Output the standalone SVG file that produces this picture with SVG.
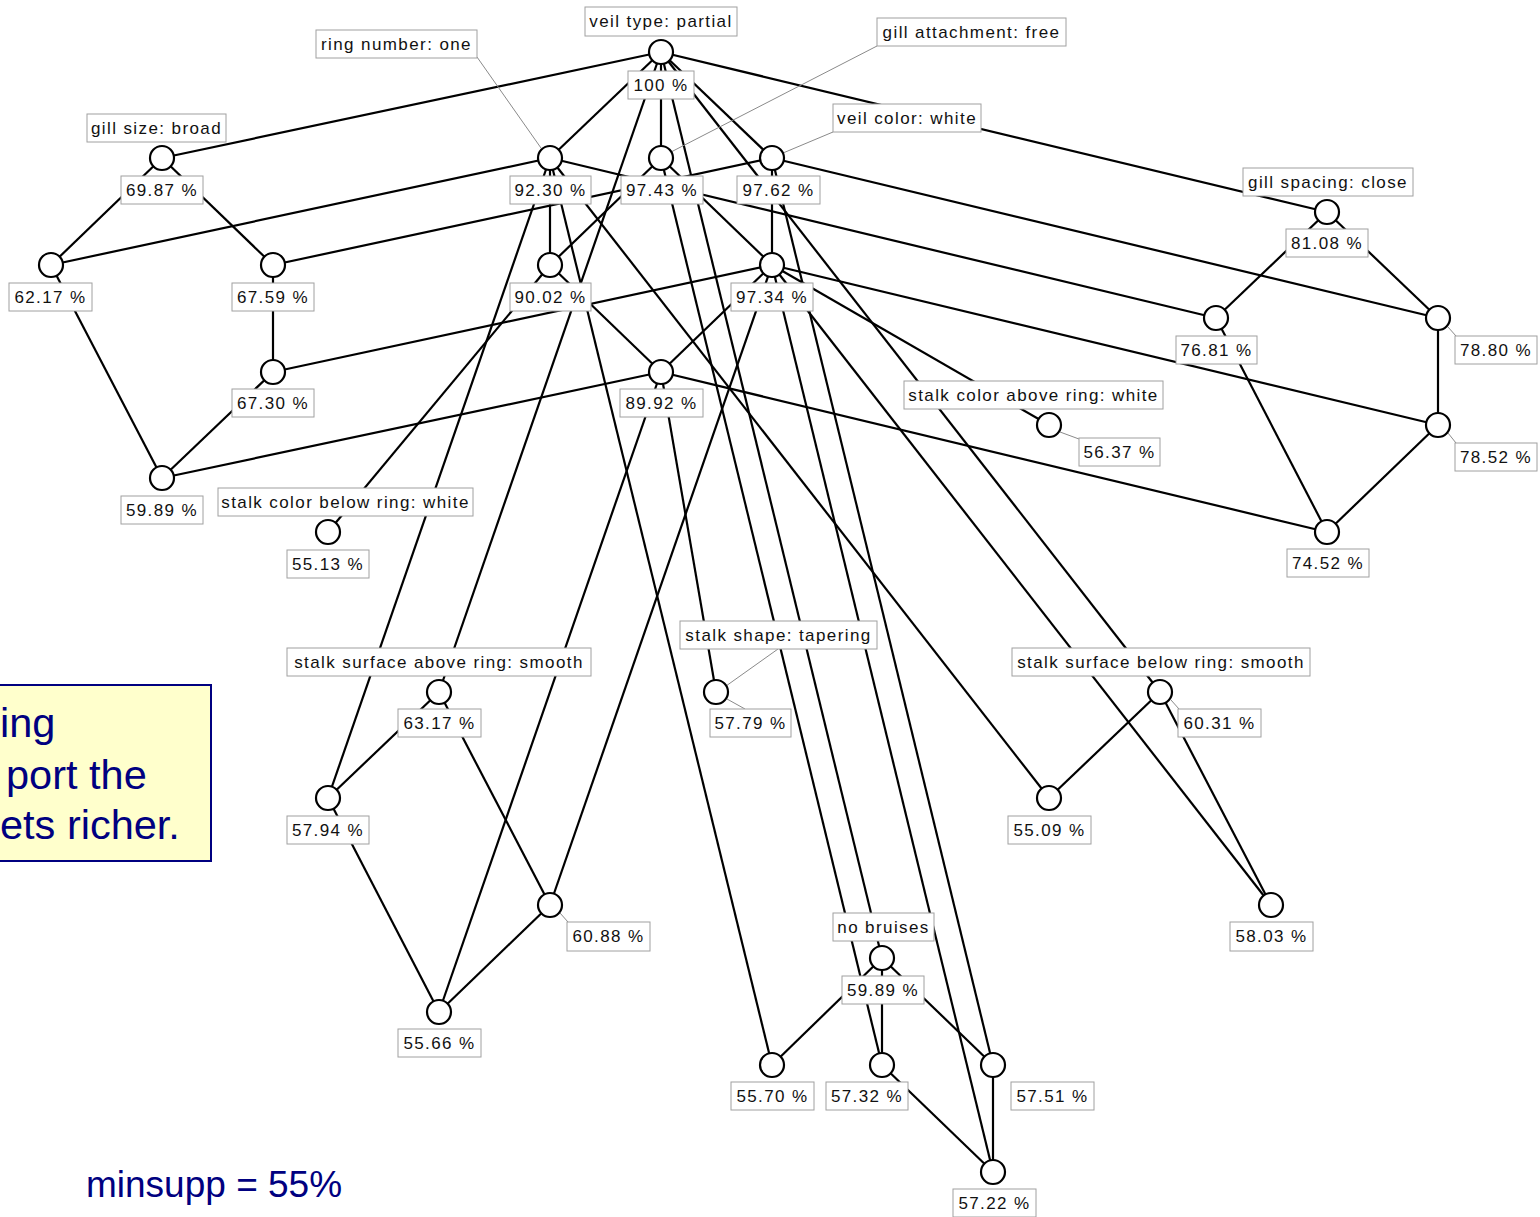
<svg xmlns="http://www.w3.org/2000/svg" width="1540" height="1217" viewBox="0 0 1540 1217">
<style>
.e line{stroke:#000;stroke-width:2.2;fill:none}
.ld line{stroke:#8a8a8a;stroke-width:1}
.nd circle{fill:#fff;stroke:#000;stroke-width:2.2}
.nd rect{fill:#fff;stroke:#a0a0a0;stroke-width:1}
.nd text{font-family:"Liberation Sans",Arial,sans-serif;font-size:17px;letter-spacing:1.4px;text-anchor:middle;fill:#111}
.note{font-family:"Liberation Sans",Arial,sans-serif;fill:#000080}
</style>
<rect x="0" y="0" width="1540" height="1217" fill="#fff"/>
<g id="connectors" class="e">
<line x1="661" y1="52" x2="162" y2="158"/>
<line x1="661" y1="52" x2="550" y2="158"/>
<line x1="661" y1="52" x2="661" y2="158"/>
<line x1="661" y1="52" x2="772" y2="158"/>
<line x1="661" y1="52" x2="1327" y2="212"/>
<line x1="661" y1="52" x2="439" y2="692"/>
<line x1="661" y1="52" x2="882" y2="958"/>
<line x1="661" y1="52" x2="1160" y2="692"/>
<line x1="550" y1="158" x2="51" y2="265"/>
<line x1="550" y1="158" x2="550" y2="265"/>
<line x1="550" y1="158" x2="328" y2="798"/>
<line x1="550" y1="158" x2="772" y2="1065"/>
<line x1="550" y1="158" x2="1049" y2="798"/>
<line x1="550" y1="158" x2="1216" y2="318"/>
<line x1="661" y1="158" x2="550" y2="265"/>
<line x1="661" y1="158" x2="772" y2="265"/>
<line x1="661" y1="158" x2="882" y2="1065"/>
<line x1="772" y1="158" x2="772" y2="265"/>
<line x1="772" y1="158" x2="273" y2="265"/>
<line x1="772" y1="158" x2="1438" y2="318"/>
<line x1="772" y1="158" x2="993" y2="1065"/>
<line x1="162" y1="158" x2="51" y2="265"/>
<line x1="162" y1="158" x2="273" y2="265"/>
<line x1="1327" y1="212" x2="1216" y2="318"/>
<line x1="1327" y1="212" x2="1438" y2="318"/>
<line x1="51" y1="265" x2="162" y2="478"/>
<line x1="273" y1="265" x2="273" y2="372"/>
<line x1="273" y1="372" x2="772" y2="265"/>
<line x1="273" y1="372" x2="162" y2="478"/>
<line x1="550" y1="265" x2="661" y2="372"/>
<line x1="550" y1="265" x2="328" y2="532"/>
<line x1="772" y1="265" x2="661" y2="372"/>
<line x1="772" y1="265" x2="550" y2="905"/>
<line x1="772" y1="265" x2="1049" y2="425"/>
<line x1="772" y1="265" x2="1438" y2="425"/>
<line x1="772" y1="265" x2="1271" y2="905"/>
<line x1="772" y1="265" x2="993" y2="1172"/>
<line x1="661" y1="372" x2="162" y2="478"/>
<line x1="661" y1="372" x2="1327" y2="532"/>
<line x1="661" y1="372" x2="439" y2="1012"/>
<line x1="661" y1="372" x2="716" y2="692"/>
<line x1="1216" y1="318" x2="1327" y2="532"/>
<line x1="1438" y1="318" x2="1438" y2="425"/>
<line x1="1438" y1="425" x2="1327" y2="532"/>
<line x1="439" y1="692" x2="328" y2="798"/>
<line x1="439" y1="692" x2="550" y2="905"/>
<line x1="328" y1="798" x2="439" y2="1012"/>
<line x1="550" y1="905" x2="439" y2="1012"/>
<line x1="1160" y1="692" x2="1049" y2="798"/>
<line x1="1160" y1="692" x2="1271" y2="905"/>
<line x1="882" y1="958" x2="772" y2="1065"/>
<line x1="882" y1="958" x2="882" y2="1065"/>
<line x1="882" y1="958" x2="993" y2="1065"/>
<line x1="882" y1="1065" x2="993" y2="1172"/>
<line x1="993" y1="1065" x2="993" y2="1172"/>
</g>
<g id="leaders" class="ld">
<line x1="477" y1="57" x2="541" y2="148"/>
<line x1="877" y1="46" x2="671" y2="152"/>
<line x1="833" y1="132" x2="783" y2="153"/>
<line x1="778" y1="649" x2="726" y2="686"/>
<line x1="727" y1="699" x2="745" y2="709"/>
<line x1="1060" y1="432" x2="1079" y2="439"/>
<line x1="1448" y1="327" x2="1456" y2="336"/>
<line x1="1448" y1="433" x2="1456" y2="443"/>
<line x1="1171" y1="700" x2="1179" y2="709"/>
<line x1="560" y1="913" x2="568" y2="922"/>
</g>
<g id="n100" class="nd"><circle cx="661" cy="52" r="12"/><rect x="585" y="7" width="152" height="29"/><text x="661" y="27">veil type: partial</text><rect x="628" y="71" width="66" height="28"/><text x="661" y="91">100 %</text></g>
<g id="n9230" class="nd"><circle cx="550" cy="158" r="12"/><rect x="316" y="30" width="161" height="28"/><text x="396.5" y="50">ring number: one</text><rect x="510" y="176" width="81" height="28"/><text x="550.5" y="196">92.30 %</text></g>
<g id="n9743" class="nd"><circle cx="661" cy="158" r="12"/><rect x="877" y="18" width="189" height="28"/><text x="971.5" y="38">gill attachment: free</text><rect x="621" y="176" width="82" height="28"/><text x="662" y="196">97.43 %</text></g>
<g id="n9762" class="nd"><circle cx="772" cy="158" r="12"/><rect x="833" y="104" width="148" height="28"/><text x="907" y="124">veil color: white</text><rect x="737" y="176" width="83" height="28"/><text x="778.5" y="196">97.62 %</text></g>
<g id="n6987" class="nd"><circle cx="162" cy="158" r="12"/><rect x="87" y="114" width="139" height="28"/><text x="156.5" y="134">gill size: broad</text><rect x="121" y="176" width="82" height="28"/><text x="162" y="196">69.87 %</text></g>
<g id="n8108" class="nd"><circle cx="1327" cy="212" r="12"/><rect x="1243" y="168" width="170" height="28"/><text x="1328" y="188">gill spacing: close</text><rect x="1286" y="229" width="82" height="28"/><text x="1327" y="249">81.08 %</text></g>
<g id="n6217" class="nd"><circle cx="51" cy="265" r="12"/><rect x="9" y="283" width="83" height="28"/><text x="50.5" y="303">62.17 %</text></g>
<g id="n6759" class="nd"><circle cx="273" cy="265" r="12"/><rect x="232" y="283" width="82" height="28"/><text x="273" y="303">67.59 %</text></g>
<g id="n9002" class="nd"><circle cx="550" cy="265" r="12"/><rect x="510" y="283" width="81" height="28"/><text x="550.5" y="303">90.02 %</text></g>
<g id="n9734" class="nd"><circle cx="772" cy="265" r="12"/><rect x="731" y="283" width="82" height="28"/><text x="772" y="303">97.34 %</text></g>
<g id="n7681" class="nd"><circle cx="1216" cy="318" r="12"/><rect x="1176" y="336" width="81" height="28"/><text x="1216.5" y="356">76.81 %</text></g>
<g id="n7880" class="nd"><circle cx="1438" cy="318" r="12"/><rect x="1455" y="336" width="82" height="28"/><text x="1496" y="356">78.80 %</text></g>
<g id="n6730" class="nd"><circle cx="273" cy="372" r="12"/><rect x="232" y="389" width="82" height="28"/><text x="273" y="409">67.30 %</text></g>
<g id="n8992" class="nd"><circle cx="661" cy="372" r="12"/><rect x="620" y="389" width="83" height="28"/><text x="661.5" y="409">89.92 %</text></g>
<g id="n5637" class="nd"><circle cx="1049" cy="425" r="12"/><rect x="904" y="381" width="259" height="28"/><text x="1033.5" y="401">stalk color above ring: white</text><rect x="1079" y="438" width="81" height="28"/><text x="1119.5" y="458">56.37 %</text></g>
<g id="n7852" class="nd"><circle cx="1438" cy="425" r="12"/><rect x="1455" y="443" width="82" height="28"/><text x="1496" y="463">78.52 %</text></g>
<g id="n5989a" class="nd"><circle cx="162" cy="478" r="12"/><rect x="121" y="496" width="82" height="28"/><text x="162" y="516">59.89 %</text></g>
<g id="n5513" class="nd"><circle cx="328" cy="532" r="12"/><rect x="218" y="488" width="255" height="28"/><text x="345.5" y="508">stalk color below ring: white</text><rect x="287" y="550" width="82" height="28"/><text x="328" y="570">55.13 %</text></g>
<g id="n7452" class="nd"><circle cx="1327" cy="532" r="12"/><rect x="1287" y="549" width="82" height="28"/><text x="1328" y="569">74.52 %</text></g>
<g id="n6317" class="nd"><circle cx="439" cy="692" r="12"/><rect x="287" y="648" width="304" height="28"/><text x="439" y="668">stalk surface above ring: smooth</text><rect x="398" y="709" width="83" height="28"/><text x="439.5" y="729">63.17 %</text></g>
<g id="n5779" class="nd"><circle cx="716" cy="692" r="12"/><rect x="680" y="621" width="197" height="28"/><text x="778.5" y="641">stalk shape: tapering</text><rect x="710" y="709" width="81" height="28"/><text x="750.5" y="729">57.79 %</text></g>
<g id="n6031" class="nd"><circle cx="1160" cy="692" r="12"/><rect x="1012" y="648" width="298" height="28"/><text x="1161" y="668">stalk surface below ring: smooth</text><rect x="1178" y="709" width="83" height="28"/><text x="1219.5" y="729">60.31 %</text></g>
<g id="n5794" class="nd"><circle cx="328" cy="798" r="12"/><rect x="287" y="816" width="82" height="28"/><text x="328" y="836">57.94 %</text></g>
<g id="n5509" class="nd"><circle cx="1049" cy="798" r="12"/><rect x="1008" y="816" width="83" height="28"/><text x="1049.5" y="836">55.09 %</text></g>
<g id="n6088" class="nd"><circle cx="550" cy="905" r="12"/><rect x="567" y="922" width="83" height="29"/><text x="608.5" y="942">60.88 %</text></g>
<g id="n5803" class="nd"><circle cx="1271" cy="905" r="12"/><rect x="1230" y="922" width="83" height="29"/><text x="1271.5" y="942">58.03 %</text></g>
<g id="n5989b" class="nd"><circle cx="882" cy="958" r="12"/><rect x="833" y="913" width="101" height="28"/><text x="883.5" y="933">no bruises</text><rect x="842" y="976" width="82" height="28"/><text x="883" y="996">59.89 %</text></g>
<g id="n5566" class="nd"><circle cx="439" cy="1012" r="12"/><rect x="398" y="1029" width="83" height="28"/><text x="439.5" y="1049">55.66 %</text></g>
<g id="n5570" class="nd"><circle cx="772" cy="1065" r="12"/><rect x="731" y="1082" width="83" height="28"/><text x="772.5" y="1102">55.70 %</text></g>
<g id="n5732" class="nd"><circle cx="882" cy="1065" r="12"/><rect x="826" y="1082" width="82" height="28"/><text x="867" y="1102">57.32 %</text></g>
<g id="n5751" class="nd"><circle cx="993" cy="1065" r="12"/><rect x="1011" y="1082" width="83" height="28"/><text x="1052.5" y="1102">57.51 %</text></g>
<g id="n5722" class="nd"><circle cx="993" cy="1172" r="12"/><rect x="953" y="1189" width="83" height="28"/><text x="994.5" y="1209">57.22 %</text></g>
<g id="note">
<rect x="-2" y="685" width="213" height="176" fill="#ffffcc" stroke="#000080" stroke-width="2"/>
<text class="note" x="0" y="737" font-size="41.5">ing</text>
<text class="note" x="6" y="789" font-size="41.5">port the</text>
<text class="note" x="0" y="839" font-size="41.5">ets richer.</text>
</g>
<text id="minsupp" class="note" x="86" y="1197" font-size="37">minsupp = 55%</text>
</svg>
